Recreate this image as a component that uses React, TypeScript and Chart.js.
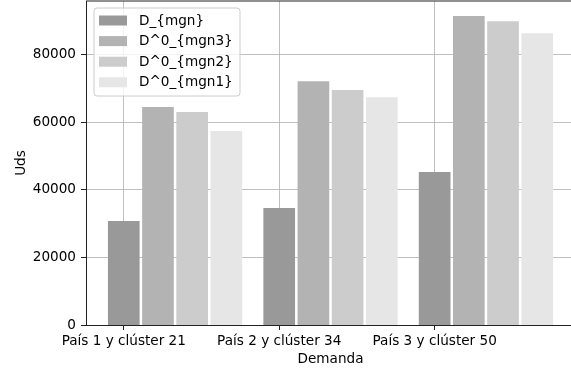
import React, { useEffect, useRef } from "react";
import { Chart, registerables } from "chart.js";

Chart.register(...registerables);

// Categories and series (units)
const categories = ["País 1 y clúster 21", "País 2 y clúster 34", "País 3 y clúster 50"];
const seriesLabels = ["D_{mgn}", "D^0_{mgn3}", "D^0_{mgn2}", "D^0_{mgn1}"];
const dMgn = [30700, 34500, 45200];
const d0Mgn3 = [64400, 72000, 91300];
const d0Mgn2 = [62900, 69400, 89800];
const d0Mgn1 = [57300, 67300, 86200];
const yTicks = [0, 20000, 40000, 60000, 80000];

const seriesValues = [dMgn, d0Mgn3, d0Mgn2, d0Mgn1];
const seriesColors = ["#999999", "#b3b3b3", "#cccccc", "#e6e6e6"];

const FONT = "'DejaVu Sans', sans-serif";
const FONT_SIZE = 13.6;
const BAR_WIDTH = 0.2;
const BAR_STEP = 0.22;

// Frame on the top/right sides of the plot area
const framePlugin = {
  id: "frame",
  afterDatasetsDraw(chart: any) {
    const { ctx, chartArea } = chart;
    ctx.save();
    ctx.strokeStyle = "#222222";
    ctx.lineWidth = 1;
    ctx.beginPath();
    ctx.moveTo(chartArea.left, chartArea.top);
    ctx.lineTo(chartArea.right, chartArea.top);
    ctx.lineTo(chartArea.right, chartArea.bottom);
    ctx.stroke();
    ctx.restore();
  },
};

// Boxed legend in the upper-left corner of the plot area
const insetLegendPlugin = {
  id: "insetLegend",
  afterDraw(chart: any) {
    const { ctx, chartArea } = chart;
    const x0 = chartArea.left + 8;
    const y0 = chartArea.top + 7;
    const w = 146;
    const h = 88;
    const r = 3;
    ctx.save();
    ctx.beginPath();
    ctx.moveTo(x0 + r, y0);
    ctx.lineTo(x0 + w - r, y0);
    ctx.arcTo(x0 + w, y0, x0 + w, y0 + r, r);
    ctx.lineTo(x0 + w, y0 + h - r);
    ctx.arcTo(x0 + w, y0 + h, x0 + w - r, y0 + h, r);
    ctx.lineTo(x0 + r, y0 + h);
    ctx.arcTo(x0, y0 + h, x0, y0 + h - r, r);
    ctx.lineTo(x0, y0 + r);
    ctx.arcTo(x0, y0, x0 + r, y0, r);
    ctx.closePath();
    ctx.fillStyle = "rgba(255,255,255,0.8)";
    ctx.fill();
    ctx.strokeStyle = "#cccccc";
    ctx.lineWidth = 1;
    ctx.stroke();

    ctx.font = `${FONT_SIZE}px ${FONT}`;
    ctx.textBaseline = "middle";
    ctx.textAlign = "left";
    chart.data.datasets.forEach((ds: any, i: number) => {
      const cy = y0 + 12.5 + i * 20.6;
      ctx.fillStyle = ds.backgroundColor;
      ctx.fillRect(x0 + 5, cy - 5, 28, 10);
      ctx.fillStyle = "#000000";
      ctx.fillText(ds.label, x0 + 45, cy + 0.5);
    });
    ctx.restore();
  },
};

export default function App() {
  const canvasRef = useRef<HTMLCanvasElement>(null);

  useEffect(() => {
    if (!canvasRef.current) return;
    const maxVal = Math.max(...seriesValues.flat());
    const nGroups = categories.length;
    const nSeries = seriesValues.length;
    const lo = -BAR_WIDTH / 2;
    const hi = nGroups - 1 + (nSeries - 1) * BAR_STEP + BAR_WIDTH / 2;
    const margin = (hi - lo) * 0.05;

    const chart = new Chart(canvasRef.current, {
      type: "bar",
      data: {
        datasets: seriesValues.map((vals, k) => ({
          label: seriesLabels[k],
          data: vals.map((v, i) => ({ x: i + k * BAR_STEP, y: v })),
          backgroundColor: seriesColors[k],
          borderWidth: 0,
          barThickness: 31,
          grouped: false,
        })),
      },
      options: {
        animation: false,
        responsive: false,
        devicePixelRatio: 1,
        layout: { padding: { top: 1, right: 5, left: 0, bottom: 0 } },
        plugins: { legend: { display: false }, tooltip: { enabled: false } },
        scales: {
          x: {
            type: "linear",
            offset: false,
            bounds: "data",
            min: lo - margin,
            max: hi + margin,
            z: 1,
            afterBuildTicks: (scale: any) => {
              scale.ticks = categories.map((_, i) => ({ value: i }));
            },
            afterFit: (scale: any) => {
              scale.height = 51;
              scale.paddingLeft = 0;
              scale.paddingRight = 0;
            },
            ticks: {
              autoSkip: false,
              maxRotation: 0,
              padding: 3,
              color: "#000000",
              font: { family: FONT, size: FONT_SIZE },
              callback: (v: any) => categories[v] ?? "",
            },
            grid: {
              offset: false,
              color: "#b0b0b0",
              lineWidth: 0.8,
              tickColor: "#222222",
              tickLength: 5,
              tickWidth: 1,
            },
            border: { display: true, color: "#222222", width: 1 },
            title: {
              display: true,
              text: "Demanda",
              color: "#000000",
              font: { family: FONT, size: FONT_SIZE },
              padding: { top: 0, bottom: 8 },
            },
          },
          y: {
            type: "linear",
            min: 0,
            max: maxVal * 1.05,
            z: 1,
            afterBuildTicks: (scale: any) => {
              scale.ticks = yTicks.map((v) => ({ value: v }));
            },
            afterFit: (scale: any) => {
              scale.width = 86;
              scale.paddingTop = 0;
              scale.paddingBottom = 0;
            },
            ticks: {
              padding: 5,
              color: "#000000",
              font: { family: FONT, size: FONT_SIZE },
              callback: (v: any) => String(v),
            },
            grid: {
              color: "#b0b0b0",
              lineWidth: 0.8,
              tickColor: "#222222",
              tickLength: 5,
              tickWidth: 1,
            },
            border: { display: true, color: "#222222", width: 1 },
            title: {
              display: true,
              text: "Uds",
              color: "#000000",
              font: { family: FONT, size: FONT_SIZE },
              padding: { top: 13, bottom: 0 },
            },
          },
        },
      },
      plugins: [framePlugin, insetLegendPlugin],
    });
    return () => chart.destroy();
  }, []);

  return (
    <div
      style={{
        position: "absolute",
        left: 0,
        top: 0,
        width: 571,
        height: 376,
        overflow: "hidden",
        background: "#ffffff",
      }}
    >
      <canvas ref={canvasRef} width={580} height={376} style={{ width: 580, height: 376, display: "block" }} />
    </div>
  );
}
